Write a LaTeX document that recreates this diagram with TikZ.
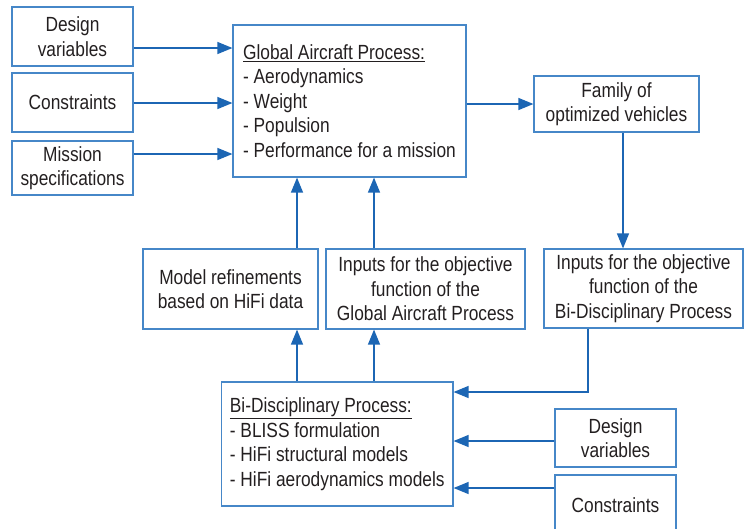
\documentclass[tikz,border=0pt]{standalone}
\usepackage{fontspec}
\setmainfont{Liberation Sans}[FakeStretch=0.845]
\usetikzlibrary{arrows.meta,calc}
\definecolor{boxc}{RGB}{70,135,200}
\definecolor{arrc}{RGB}{28,102,180}
\definecolor{txt}{RGB}{35,31,32}
\begin{document}
\begin{tikzpicture}[x=1pt,y=-1pt,
  box/.style={draw=boxc,line width=1.2pt,inner sep=0pt,text=txt,align=center,
    font=\fontsize{20.5}{24.5}\selectfont},
  lbox/.style={box,align=left},
  arr/.style={draw=arrc,line width=1.3pt,-{Triangle[length=15pt,width=12pt]}}]
\useasboundingbox (0,0) rectangle (747,528);
% left inputs
\node[box,minimum width=121pt,minimum height=59pt] (dv) at (72.5,36.5) {Design\\variables};
\node[box,minimum width=121pt,minimum height=59pt] (con) at (72.5,102.5) {Constraints};
\node[box,minimum width=121pt,minimum height=54pt] (mis) at (72.5,168) {Mission\\specifications};
% global process
\node[lbox,minimum width=233pt,minimum height=152pt] (global) at (349.5,101)
  {\underline{Global Aircraft Process:}\\- Aerodynamics\\- Weight\\- Populsion\\- Performance for a mission};
\node[box,minimum width=165pt,minimum height=56pt] (fam) at (616.5,104) {Family of\\optimized vehicles};
\node[box,minimum width=199pt,minimum height=79pt] (in2) at (643.5,288.5) {Inputs for the objective\\function of the\\Bi-Disciplinary Process};
\node[box,minimum width=175pt,minimum height=80pt] (model) at (230.5,289) {Model refinements\\based on HiFi data};
\node[box,minimum width=199pt,minimum height=80pt] (in1) at (425.5,289) {Inputs for the objective\\function of the\\Global Aircraft Process};
\node[lbox,minimum width=231.5pt,minimum height=124pt] (bi) at (337.25,444)
  {\underline{Bi-Disciplinary Process:}\\- BLISS formulation\\- HiFi structural models\\- HiFi aerodynamics models};
\node[box,minimum width=121pt,minimum height=58pt] (dv2) at (615.5,438) {Design\\variables};
\node[box,minimum width=121pt,minimum height=62pt] (con2) at (615.5,506) {\raisebox{1pt}[\height][\depth]{Constraints}};
% helper coordinates
\coordinate (c1) at (297,0);
\coordinate (c2) at (374,0);
\coordinate (c3) at (588,392);
\coordinate (c5) at (623,0);
% connectors
\draw[arr] ([yshift=-11.5pt]dv.east) coordinate (t1) -- (t1 -| global.west);
\draw[arr] ([yshift=-0.5pt]con.east) coordinate (t2) -- (t2 -| global.west);
\draw[arr] ([yshift=14pt]mis.east) coordinate (t3) -- (t3 -| global.west);
\draw[arr] (global.east |- fam.west) -- (fam.west);
\draw[arr] (fam.south -| c5) -- (in2.north -| c5);
\draw[arr] (in2.south -| c3) |- (c3 -| bi.east);
\draw[arr] (model.north -| c1) -- (global.south -| c1);
\draw[arr] (in1.north -| c2) -- (global.south -| c2);
\draw[arr] (bi.north -| c1) -- (model.south -| c1);
\draw[arr] (bi.north -| c2) -- (in1.south -| c2);
\draw[arr] ([yshift=-3pt]dv2.west) coordinate (t4) -- (t4 -| bi.east);
\draw[arr] (con2.west |- 0,488) coordinate (t5) -- (t5 -| bi.east);
\end{tikzpicture}
\end{document}
